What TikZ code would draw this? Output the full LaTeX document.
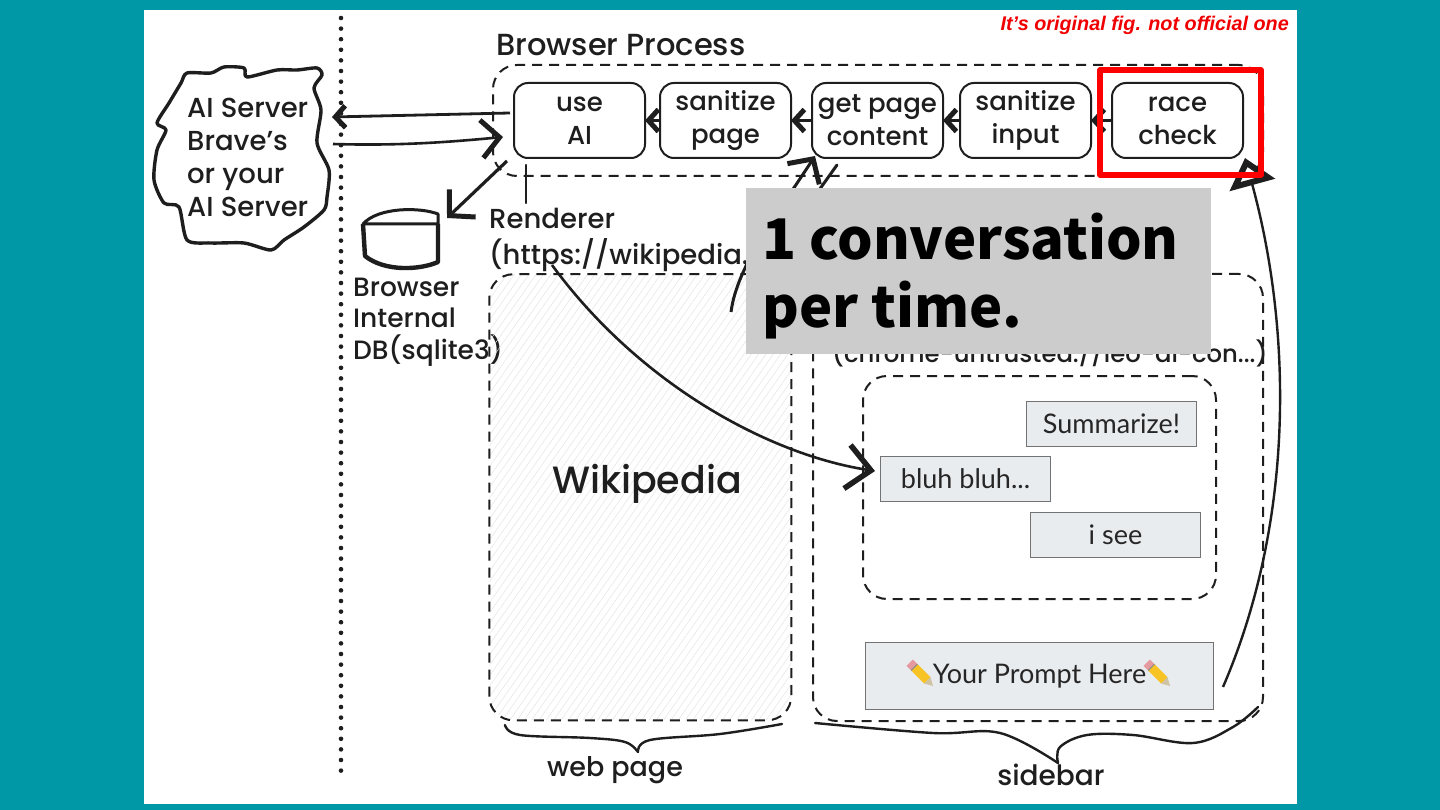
\documentclass[tikz,border=0pt]{standalone}
\usepackage{fontspec}
\usepackage{xcolor}
\usetikzlibrary{arrows.meta,positioning,patterns.meta}
\setmainfont{Poppins}[UprightFont=* Medium]
\newfontfamily\bubblefont{Lato}
\newfontfamily\notefont{Liberation Sans}
\newfontfamily\capfont{Noto Sans CJK JP}
\definecolor{pageteal}{HTML}{0097A7}
\definecolor{bubblegray}{HTML}{E9ECEF}
\definecolor{inkblack}{HTML}{1E1E1E}
\definecolor{notered}{HTML}{F00000}
\definecolor{pencilyellow}{HTML}{F7C325}
\definecolor{pencilpink}{HTML}{E59AA0}
\definecolor{pencilwood}{HTML}{8A6A1C}

\tikzset{
    pencilicon/.pic={
        \fill[pencilyellow] (-10,-4.5) rectangle (9,4.5);
        \fill[pencilpink] (-16,-4.5) rectangle (-10,4.5);
        \fill[black!45] (-10,-4.5) rectangle (-9,4.5);
        \fill[pencilwood!40] (9,-4.5) -- (17,0) -- (9,4.5) -- cycle;
    }
}

\begin{document}
\begin{tikzpicture}[
    x=1pt, y=-1pt,
    node distance=15pt,
    stepbox/.style={
        rectangle,
        draw=inkblack,
        line width=2pt,
        outer sep=0pt,
        minimum width=131pt,
        minimum height=75pt,
        inner sep=0pt,
        align=center,
        rounded corners=14pt,
        text=inkblack,
        font=\fontsize{26}{33}\selectfont
    },
    dashbox/.style={
        rectangle,
        draw=inkblack,
        line width=2pt,
        dash pattern=on 10pt off 7pt,
        rounded corners=24pt
    },
    bubble/.style={
        rectangle,
        draw=black!55,
        line width=1pt,
        fill=bubblegray,
        minimum width=170pt,
        minimum height=45pt,
        inner sep=0pt,
        text=black!85,
        font=\bubblefont\fontsize{27}{30}\selectfont
    },
    handtext/.style={
        anchor=west,
        align=left,
        inner sep=0pt,
        text=inkblack
    },
    smallarrow/.style={-{Straight Barb[length=10pt,width=22pt,line width=5pt]}, line width=3.6pt, inkblack},
    openarrow/.style={-{Straight Barb[length=18pt,width=38pt,line width=5pt]}, line width=2.6pt, inkblack},
    sketchline/.style={line width=2.4pt, inkblack, line cap=round}
]
\useasboundingbox (0,0) rectangle (1440,810);

% =========================================
% Page
% =========================================
\fill[pageteal] (0,0) rectangle (1440,810);
\fill[white] (144,10) rectangle (1297,804);

% =========================================
% Divider and AI server
% =========================================
\coordinate (dividertop) at (341,18);
\coordinate (dividerbottom) at (341,773);
\draw[line width=4.6pt, dash pattern=on 0pt off 10.6pt, line cap=round, inkblack] (dividertop) -- (dividerbottom);

\draw[line width=3.4pt, inkblack, line join=round] plot[smooth cycle, tension=0.45] coordinates {
    (187,73) (211,73) (224,67) (244,68) (247,77) (277,70) (297,70) (317,68)
    (322,75) (314,88) (321,110) (317,143) (329,170) (327,197) (324,210) (304,227)
    (284,240) (271,250) (244,243) (211,243) (187,240) (179,207) (164,203) (154,180)
    (157,150) (166,130) (157,123) (169,103) (181,83)};
\node[handtext, font=\fontsize{27.5}{33}\selectfont] (server) at (187,157) {
    AI Server\\
    Brave's\\
    or your\\
    AI Server
};

% =========================================
% Browser process
% =========================================
\node[handtext, font=\fontsize{30.5}{33}\selectfont] (browsertitle) at (496,45) {Browser Process};
\node[dashbox, minimum width=770pt, minimum height=111pt, anchor=north west] (browser) at (492,64) {};

\node[stepbox, anchor=north west] (race) at (1112,83) {race\\check};
\node[stepbox, left=21pt of race] (input) {sanitize\\input};
\node[stepbox, left=17pt of input] (content) {get page\\content};
\node[stepbox, left=21pt of content] (page) {sanitize\\page};
\node[stepbox, left=15pt of page] (ai) {use\\AI};

\draw[smallarrow] (race) -- (input);
\draw[smallarrow] (input) -- (content);
\draw[smallarrow] (content) -- (page);
\draw[smallarrow] (page) -- (ai);

% =========================================
% Database
% =========================================
\coordinate (dbleft) at (363,224);
\coordinate (dbright) at (438,224);
\draw[line width=4.4pt, inkblack, line join=round] (dbleft) -- (365,256) .. controls (385,272) and (420,270) .. (438,262) -- (dbright);
\draw[line width=3pt, inkblack, line join=round, line cap=round] (dbleft) .. controls (378,207) and (420,207) .. (438,214) -- (dbright) -- cycle;
\node[handtext, font=\fontsize{26.5}{31.5}\selectfont] (dblabel) at (353,322) {
    Browser\\
    Internal\\
    DB(sqlite3)
};

% =========================================
% Renderer, web page and sidebar
% =========================================
\node[handtext, font=\fontsize{27.5}{36}\selectfont] (renderer) at (489,240) {
    Renderer\\
    (https://wikipedia.
};
\coordinate (rendertick) at (526,165);
\coordinate (rendertickend) at (526,203);
\draw[sketchline] (rendertick) -- (rendertickend);

\node[dashbox, minimum width=302pt, minimum height=446pt, anchor=north west,
      pattern={Lines[angle=55,distance=6pt,line width=.5pt]}, pattern color=black!10] (webpage) at (489,274) {};
\node[font=\fontsize{38}{40}\selectfont, text=inkblack, inner sep=0pt] (wiki) at (647,484) {Wikipedia};

\node[dashbox, minimum width=450pt, minimum height=447pt, anchor=north west] (sidebar) at (812,273) {};
\node[handtext, font=\fontsize{24.3}{30}\selectfont] (sidebarurl) at (832,353) {(chrome-untrusted://leo-ai-con...)};

\node[dashbox, minimum width=353pt, minimum height=223pt, anchor=north west] (chat) at (862,375) {};
\node[bubble, anchor=north west] (summarize) at (1026,401) {Summarize!};
\node[bubble, anchor=north west] (bluh) at (880,456) {bluh bluh...};
\node[bubble, anchor=north west] (isee) at (1030,512) {i see};
\node[bubble, minimum width=348pt, minimum height=67pt, anchor=north west] (prompt) at (865,642) {Your Prompt Here};
\pic[rotate=-45] at (921,674) {pencilicon};
\pic[rotate=-45] at (1158,674) {pencilicon};

\node[handtext, anchor=center, font=\fontsize{27}{30}\selectfont] (weblabel) at (615,770) {web page};
\node[handtext, anchor=center, font=\fontsize{28}{30}\selectfont] (sidelabel) at (1051,775) {sidebar};

% Braces
\draw[sketchline] plot[smooth, tension=0.6] coordinates {
    (505,725) (520,735) (590,738) (625,742) (638,752)};
\draw[sketchline] plot[smooth, tension=0.6] coordinates {
    (638,752) (650,740) (720,734) (782,724)};
\draw[sketchline] plot[smooth, tension=0.6] coordinates {
    (815,723) (933,733) (1000,733) (1058,763)};
\draw[sketchline] plot[smooth, tension=0.6] coordinates {
    (1058,763) (1060,747) (1087,735) (1133,735) (1193,743) (1233,727) (1258,707)};

% =========================================
% Arrows
% =========================================
\coordinate (serverin) at (332,117);
\coordinate (serverout) at (333,144);
\coordinate (browserin) at (503,137);
\coordinate (aiout) at (510,113);
\coordinate (dbout) at (507,161);
\coordinate (dbin) at (447,218);
\coordinate (urlstart) at (552,265);
\coordinate (webout) at (731,312);
\coordinate (strokestart) at (837,165);
\coordinate (strokeend) at (812,200);
\coordinate (promptout) at (1223,687);

\draw[smallarrow, line width=2.8pt] (aiout) -- (serverin);
\draw[openarrow] (serverout) .. controls (400,146) and (450,142) .. (browserin);
\draw[openarrow, line width=3.2pt] (dbout) -- (dbin);
\draw[line width=2.6pt, inkblack, -{Straight Barb[length=24pt,width=44pt,line width=5.5pt]}]
    (urlstart) .. controls (640,385) and (770,455) .. ([xshift=-5pt,yshift=8pt]bluh.west);
\draw[openarrow, line width=3pt] (webout) .. controls (737,265) and (780,210) .. ([xshift=3pt,yshift=2pt]content.south west);
\draw[sketchline, line width=3pt] (strokestart) -- (strokeend);
\draw[line width=2.4pt, inkblack, -{Triangle[open, length=28pt, width=46pt, line width=6pt]}]
    (promptout) .. controls (1295,520) and (1292,330) .. ([xshift=2pt]race.south east);

% =========================================
% Red frame and captions on top
% =========================================
\draw[draw=red, line width=5.5pt, line join=round] (1100,70) rectangle (1261,175);

\node[fill=black!20, minimum width=465pt, minimum height=166pt, anchor=north west] (caption) at (746,188) {};
\node[anchor=west, align=left, inner sep=0pt, text=black,
      font=\capfont\bfseries\fontsize{56}{68}\selectfont] (captiontext) at (762,276) {
    1 conversation\\
    per time.
};
\node[anchor=east, inner sep=0pt, text=notered,
      font=\notefont\bfseries\itshape\fontsize{19.8}{24}\selectfont] (note) at (1289,25) {It’s original fig. not official one};

\end{tikzpicture}
\end{document}
